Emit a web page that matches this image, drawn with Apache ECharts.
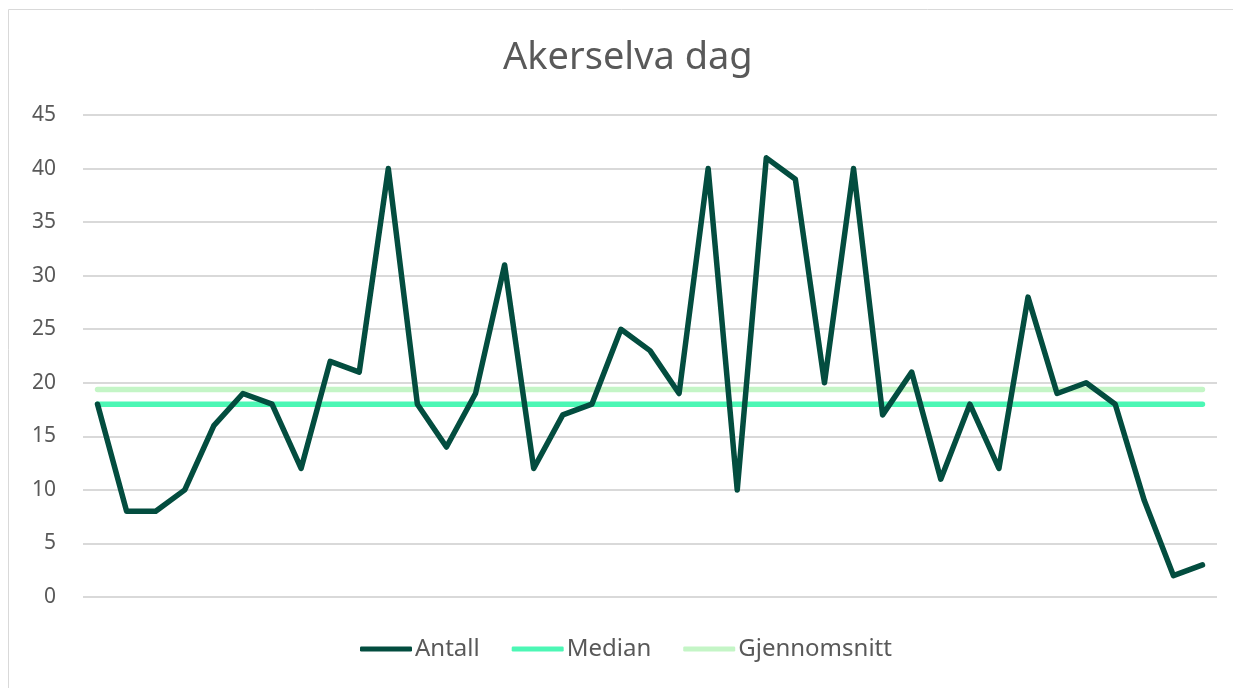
<!DOCTYPE html>
<html>
<head>
<meta charset="utf-8">
<script src="https://cdn.jsdelivr.net/npm/echarts@6/dist/echarts.min.js"></script>
<style>
  html, body { margin: 0; padding: 0; background: #fff; }
  #chart { width: 1233px; height: 688px; }
</style>
</head>
<body>
<div id="chart"></div>
<script>
const antall = [18, 8, 8, 10, 16, 19, 18, 12, 22, 21,
                40, 18, 14, 19, 31, 12, 17, 18, 25, 23,
                19, 40, 10, 41, 39, 20, 40, 17, 21, 11,
                18, 12, 28, 19, 20, 18, 9, 2, 3]
const categories = antall.map((v, i) => String(i + 1))
const medianValue = 18
const meanValue = 19.38
const median = antall.map(() => medianValue)
const mean = antall.map(() => meanValue)

const chart = echarts.init(document.getElementById("chart"), null, { renderer: "canvas" })

const font = "'Noto Sans', sans-serif"

chart.setOption({
    animation: false,
    textStyle: { fontFamily: font },
    graphic: [
        {
            type: "rect",
            shape: { x: 8.5, y: 9.5, width: 1240, height: 700 },
            style: { fill: "none", stroke: "#d9d9d9", lineWidth: 1 },
            silent: true,
        },
    ],
    title: {
        text: "Akerselva dag",
        left: 498,
        top: 34,
        textStyle: { fontSize: 38, fontWeight: "normal", color: "#595959", fontFamily: font },
    },
    legend: {
        bottom: 22,
        left: 355,
        itemWidth: 52,
        itemHeight: 5,
        itemGap: 32,
        textStyle: { fontSize: 24, color: "#595959", fontFamily: font, padding: [0, 0, 0, -2] },
        data: [
            { name: "Antall", icon: "roundRect" },
            { name: "Median", icon: "roundRect" },
            { name: "Gjennomsnitt", icon: "roundRect" },
        ],
    },
    grid: { left: 83, right: 16, top: 115, bottom: 91 },
    xAxis: {
        type: "category",
        data: categories,
        boundaryGap: true,
        axisLine: { show: false },
        axisTick: { show: false },
        axisLabel: { show: false },
    },
    yAxis: {
        type: "value",
        min: 0,
        max: 45,
        interval: 5,
        axisLine: { show: false },
        axisTick: { show: false },
        axisLabel: { fontSize: 21, color: "#595959", margin: 27, fontFamily: font },
        splitLine: { lineStyle: { color: "#d9d9d9", width: 2 } },
    },
    series: [
        {
            name: "Antall",
            type: "line",
            data: antall,
            symbol: "none",
            color: "#034d3f",
            lineStyle: { width: 5.5, color: "#034d3f", cap: "round", join: "round" },
            z: 3,
        },
        {
            name: "Median",
            type: "line",
            data: median,
            symbol: "none",
            color: "#4cf7b5",
            lineStyle: { width: 5.5, color: "#4cf7b5", cap: "round" },
            z: 2,
        },
        {
            name: "Gjennomsnitt",
            type: "line",
            data: mean,
            symbol: "none",
            color: "#c4f5c6",
            lineStyle: { width: 5.5, color: "#c4f5c6", cap: "round" },
            z: 1,
        },
    ],
})
</script>
</body>
</html>
